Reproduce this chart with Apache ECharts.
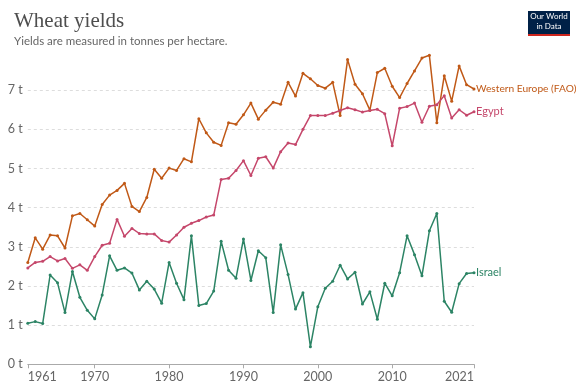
<!DOCTYPE html>
<html>
<head>
<meta charset="utf-8">
<script src="https://cdn.jsdelivr.net/npm/echarts@6/dist/echarts.min.js"></script>
<style>
  html, body { margin: 0; padding: 0; background: #fff; }
  #chart { width: 580px; height: 391px; }
</style>
</head>
<body>
<div id="chart"></div>
<script>
const years = [];
for (let y = 1961; y <= 2021; y++) years.push(y);

const xTickYears = [1961, 1970, 1980, 1990, 2000, 2010, 2021];
const yTickValues = [0, 1, 2, 3, 4, 5, 6, 7];

const westernEurope = [
  2.60, 3.23, 2.94, 3.30, 3.28, 2.97, 3.79, 3.85, 3.69, 3.53,
  4.08, 4.32, 4.44, 4.62, 4.03, 3.90, 4.26, 4.98, 4.75, 5.01,
  4.95, 5.25, 5.17, 6.27, 5.91, 5.67, 5.59, 6.17, 6.13, 6.37,
  6.67, 6.26, 6.49, 6.69, 6.64, 7.20, 6.85, 7.43, 7.29, 7.12,
  7.05, 7.20, 6.35, 7.78, 7.15, 6.91, 6.49, 7.45, 7.56, 7.10,
  6.81, 7.17, 7.49, 7.82, 7.89, 6.17, 7.37, 6.72, 7.62, 7.14, 7.03
];
const egypt = [
  2.46, 2.60, 2.63, 2.75, 2.64, 2.70, 2.45, 2.54, 2.40, 2.75,
  3.04, 3.09, 3.70, 3.27, 3.47, 3.34, 3.33, 3.33, 3.16, 3.12,
  3.30, 3.50, 3.60, 3.67, 3.76, 3.81, 4.72, 4.75, 4.95, 5.20,
  4.82, 5.26, 5.30, 5.01, 5.43, 5.65, 5.61, 6.00, 6.35, 6.35,
  6.35, 6.41, 6.48, 6.55, 6.50, 6.44, 6.48, 6.51, 6.40, 5.58,
  6.54, 6.58, 6.67, 6.18, 6.59, 6.63, 6.86, 6.29, 6.50, 6.36, 6.45
];
const israel = [
  1.05, 1.09, 1.04, 2.28, 2.08, 1.32, 2.37, 1.71, 1.38, 1.16,
  1.77, 2.77, 2.40, 2.46, 2.33, 1.90, 2.12, 1.92, 1.56, 2.60,
  2.07, 1.65, 3.28, 1.50, 1.55, 1.87, 3.14, 2.40, 2.20, 3.20,
  2.14, 2.90, 2.72, 1.32, 3.05, 2.29, 1.41, 1.83, 0.45, 1.47,
  1.94, 2.12, 2.53, 2.18, 2.35, 1.54, 1.85, 1.15, 2.07, 1.75,
  2.34, 3.28, 2.80, 2.26, 3.41, 3.85, 1.61, 1.33, 2.06, 2.32, 2.34
];

const seriesDefs = [
  { name: 'Western Europe (FAO)', values: westernEurope, color: '#C05917', labelSize: 10.2 },
  { name: 'Egypt', values: egypt, color: '#C5476B', labelSize: 11 },
  { name: 'Israel', values: israel, color: '#2C8465', labelSize: 11 }
];

const chart = echarts.init(document.getElementById('chart'), null, { renderer: 'canvas' });

const FONT = 'Lato, "Noto Sans", sans-serif';

chart.setOption({
  animation: false,
  backgroundColor: '#fff',
  title: {
    text: 'Wheat yields',
    subtext: 'Yields are measured in tonnes per hectare.',
    left: 9,
    top: 6,
    itemGap: 3,
    textStyle: { fontFamily: '"Liberation Serif", "DejaVu Serif", serif', fontSize: 21, fontWeight: 'normal', color: '#4e4e4e' },
    subtextStyle: { fontFamily: FONT, fontSize: 11.5, color: '#666' }
  },
  graphic: [
    { type: 'rect', x: 528, y: 11, shape: { width: 42, height: 23 }, style: { fill: '#002147' } },
    { type: 'rect', x: 528, y: 34, shape: { width: 42, height: 2 }, style: { fill: '#ce261e' } },
    { type: 'text', x: 549, y: 12.5, style: { text: 'Our World', fill: '#fff', font: '8px ' + FONT, textAlign: 'center', textVerticalAlign: 'top' } },
    { type: 'text', x: 549, y: 22.5, style: { text: 'in Data', fill: '#fff', font: '8px ' + FONT, textAlign: 'center', textVerticalAlign: 'top' } }
  ],
  grid: { left: 27.8, right: 106, top: 51, bottom: 26.7, containLabel: false },
  xAxis: {
    type: 'value',
    min: 1961,
    max: 2021,
    axisLine: { show: true, lineStyle: { color: '#aaa', width: 1 } },
    axisTick: { show: true, customValues: xTickYears, length: 4, lineStyle: { color: '#aaa' } },
    axisLabel: {
      customValues: xTickYears,
      fontFamily: FONT, fontSize: 12.5, color: '#666', margin: 6,
      alignMinLabel: 'left', alignMaxLabel: 'right',
      formatter: v => String(v)
    },
    splitLine: { show: false }
  },
  yAxis: {
    type: 'value',
    min: 0,
    max: 8,
    interval: 1,
    axisLine: { show: false },
    axisTick: { show: false },
    axisLabel: {
      fontFamily: FONT, fontSize: 12.5, color: '#666', margin: 5,
      showMaxLabel: false,
      formatter: v => (yTickValues.indexOf(v) >= 0 ? v + ' t' : '')
    },
    splitLine: {
      show: true,
      lineStyle: {
        color: ['#ddd', '#ddd', '#ddd', '#ddd', '#ddd', '#ddd', '#ddd', '#ddd', 'rgba(0,0,0,0)'],
        type: [3, 3],
        width: 1
      }
    }
  },
  series: seriesDefs.map(s => ({
    name: s.name,
    type: 'line',
    data: years.map((y, i) => [y, s.values[i]]),
    color: s.color,
    lineStyle: { width: 1.5, color: s.color },
    symbol: 'circle',
    symbolSize: 3,
    showSymbol: true,
    itemStyle: { color: s.color },
    endLabel: {
      show: true,
      formatter: s.name,
      color: s.color,
      fontFamily: FONT,
      fontSize: s.labelSize,
      distance: 2
    }
  }))
});
</script>
</body>
</html>
